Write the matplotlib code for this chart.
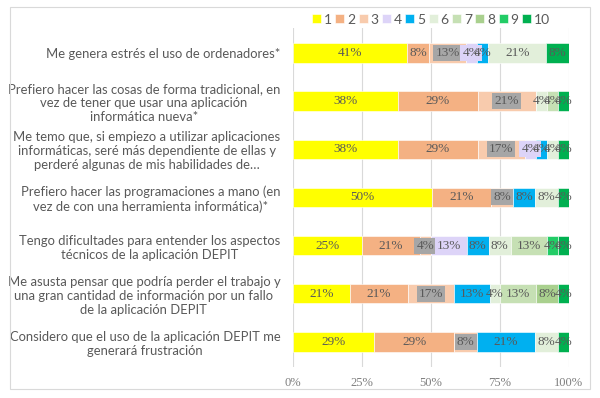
import numpy as np
import matplotlib
matplotlib.use("Agg")
import matplotlib.pyplot as plt
from matplotlib.patches import Rectangle

# Datos (porcentajes mostrados en las etiquetas)
preguntas = [
    "Me genera estrés el uso de ordenadores*",
    "Prefiero hacer las cosas de forma tradicional, en\nvez de tener que usar una aplicación\ninformática nueva*",
    "Me temo que, si empiezo a utilizar aplicaciones\ninformáticas, seré más dependiente de ellas y\nperderé algunas de mis habilidades de…",
    "Prefiero hacer las programaciones a mano (en\nvez de con una herramienta informática)*",
    "Tengo dificultades para entender los aspectos\ntécnicos de la aplicación DEPIT",
    "Me asusta pensar que podría perder el trabajo y\nuna gran cantidad de información por un fallo\nde la aplicación DEPIT",
    "Considero que el uso de la aplicación DEPIT me\ngenerará frustración",
]
niveles = ["1", "2", "3", "4", "5", "6", "7", "8", "9", "10"]
n1 = [41, 38, 38, 50, 25, 21, 29]
n2 = [8, 29, 29, 21, 21, 21, 29]
n3 = [13, 21, 17, 8, 4, 17, 8]
n4 = [4, 0, 4, 0, 13, 0, 0]
n5 = [4, 0, 4, 8, 8, 13, 21]
n6 = [21, 4, 4, 8, 8, 4, 8]
n7 = [0, 4, 0, 0, 13, 13, 0]
n8 = [0, 0, 0, 0, 0, 8, 0]
n9 = [0, 0, 0, 0, 4, 0, 0]
n10 = [8, 4, 4, 4, 4, 4, 4]
colores = ["#FFFF00", "#F4B183", "#F8CBAD", "#DDD4F8", "#00B0F0",
           "#E2EFDA", "#C6E0B4", "#A9D08E", "#22CC66", "#00B050"]

datos = np.array([n1, n2, n3, n4, n5, n6, n7, n8, n9, n10], dtype=float)
totales = datos.sum(axis=0)
pct = datos / totales * 100  # barras 100% apiladas

fig = plt.figure(figsize=(6, 3.98), dpi=100)
ax = fig.add_axes([0.488, 0.078, 0.46, 0.852])

y = np.arange(len(preguntas))
izq = np.zeros(len(preguntas))
for i in range(len(niveles)):
    ax.barh(y, pct[i], left=izq, height=0.4, color=colores[i],
            edgecolor="white", linewidth=0.4, label=niveles[i], zorder=2)
    for j in range(len(preguntas)):
        if datos[i, j] > 0:
            caja = None
            if i == 2:
                caja = dict(boxstyle="square,pad=0.15", fc="#A6A6A6", ec="none")
            elif i == 3:
                caja = dict(boxstyle="square,pad=0.15", fc="#DDD4F8", ec="none")
            ax.text(izq[j] + pct[i, j] / 2, y[j], "%d%%" % datos[i, j],
                    ha="center", va="center", fontsize=9.5, color="#595959",
                    family="Liberation Serif", bbox=caja, zorder=3)
    izq = izq + pct[i]

ax.set_xlim(0, 100)
ax.set_ylim(6.52, -0.52)
ax.set_xticks([0, 25, 50, 75, 100])
ax.set_xticklabels(["0%", "25%", "50%", "75%", "100%"],
                   family="Liberation Serif", fontsize=9, color="#7F7F7F")
ax.set_yticks(y)
ax.set_yticklabels(preguntas, fontsize=9.4, color="#595959", family="Lato",
                   multialignment="center")
ax.tick_params(axis="both", length=0)
ax.tick_params(axis="y", pad=9)
ax.tick_params(axis="x", pad=7)
ax.grid(axis="x", color="#D9D9D9", linewidth=0.8, zorder=0)
for s in ax.spines.values():
    s.set_visible(False)

ax.legend(loc="lower center", bbox_to_anchor=(0.5, 0.99), ncol=10,
          frameon=False, handlelength=0.65, handleheight=0.65,
          handletextpad=0.2, columnspacing=0.25,
          prop={"family": "Lato", "size": 10}, labelcolor="#595959",
          borderaxespad=0.0)

fig.patches.append(Rectangle((10 / 600, 9 / 398), 580 / 600, 382 / 398,
                             transform=fig.transFigure, fill=False,
                             edgecolor="#D9D9D9", linewidth=0.8))

fig.savefig("out.png", dpi=100)
